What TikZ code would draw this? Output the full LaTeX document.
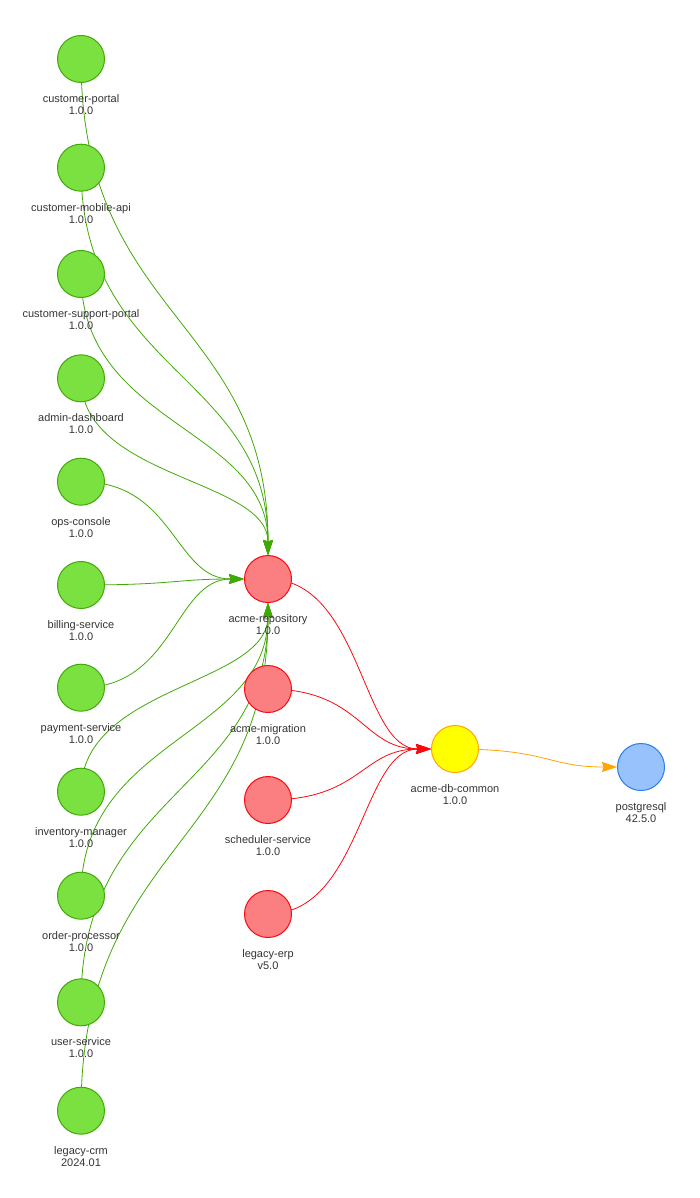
\documentclass[tikz,border=0pt]{standalone}
\usepackage{fontspec}
\setmainfont{Liberation Sans}
\usetikzlibrary{arrows.meta, positioning, calc, backgrounds}
\definecolor{appgreen}{HTML}{7BE141}
\definecolor{appgreenline}{HTML}{41A906}
\definecolor{libred}{HTML}{FB7E81}
\definecolor{libredline}{HTML}{FA0A10}
\definecolor{coreyellow}{HTML}{FFFF00}
\definecolor{coreorange}{HTML}{FFA500}
\definecolor{dbblue}{HTML}{97C2FC}
\definecolor{dbblueline}{HTML}{2B7CE9}
\definecolor{labelgray}{HTML}{343434}

\begin{document}
\begin{tikzpicture}[x=1pt, y=-1pt]
    % Define styles
    \tikzstyle{pkg} = [circle, draw, line width=1pt, minimum size=47pt, inner sep=0pt]
    \tikzstyle{lbl} = [align=center, inner sep=0pt, text=labelgray, yshift=-11.5pt,
                       font=\fontsize{11}{12}\selectfont]
    \tikzstyle{app} = [pkg, fill=appgreen, draw=appgreenline]
    \tikzstyle{lib} = [pkg, fill=libred, draw=libredline]
    \tikzstyle{core} = [pkg, fill=coreyellow, draw=coreorange]
    \tikzstyle{db} = [pkg, fill=dbblue, draw=dbblueline]
    \tikzstyle{dep} = [line width=0.8pt, -{Stealth[length=15pt, width=10pt, inset=1.5pt]}]
    \tikzstyle{hbez} = [to path={.. controls ($(\tikztostart)!0.5!(\tikztostart -| \tikztotarget)$)
                        and ($(\tikztotarget)!0.5!(\tikztotarget -| \tikztostart)$) .. (\tikztotarget)}]
    \tikzstyle{vbez} = [to path={.. controls ($(\tikztostart)!0.5!(\tikztostart |- \tikztotarget)$)
                        and ($(\tikztotarget)!0.5!(\tikztotarget |- \tikztostart)$) .. (\tikztotarget)}]

    \useasboundingbox (0,0) rectangle (700,1198);

    % Create nodes
    \node[app, label={[lbl]below:{customer-portal\\1.0.0}}] (portal) at (81,59) {};
    \node[app, below=60.7pt of portal, label={[lbl]below:{customer-mobile-api\\1.0.0}}] (mobileapi) {};
    \node[app, below=58.3pt of mobileapi, label={[lbl]below:{customer-support-portal\\1.0.0}}] (supportportal) {};
    \node[app, below=56.3pt of supportportal, label={[lbl]below:{admin-dashboard\\1.0.0}}] (admin) {};
    \node[app, below=55.4pt of admin, label={[lbl]below:{ops-console\\1.0.0}}] (ops) {};
    \node[app, below=55.3pt of ops, label={[lbl]below:{billing-service\\1.0.0}}] (billing) {};
    \node[app, below=54.7pt of billing, label={[lbl]below:{payment-service\\1.0.0}}] (payment) {};
    \node[app, below=56pt of payment, label={[lbl]below:{inventory-manager\\1.0.0}}] (inventory) {};
    \node[app, below=56pt of inventory, label={[lbl]below:{order-processor\\1.0.0}}] (orderproc) {};
    \node[app, below=58.6pt of orderproc, label={[lbl]below:{user-service\\1.0.0}}] (usersvc) {};
    \node[app, below=60.4pt of usersvc, label={[lbl]below:{legacy-crm\\2024.01}}] (legacycrm) {};

    \node[lib, label={[lbl]below:{acme-repository\\1.0.0}}] (repo) at (268,579) {};
    \node[lib, below=62pt of repo, label={[lbl]below:{acme-migration\\1.0.0}}] (migration) {};
    \node[lib, below=63pt of migration, label={[lbl]below:{scheduler-service\\1.0.0}}] (scheduler) {};
    \node[lib, below=66pt of scheduler, label={[lbl]below:{legacy-erp\\v5.0}}] (legacyerp) {};

    \node[core, label={[lbl]below:{acme-db-common\\1.0.0}}] (dbcommon) at (455,749) {};
    \node[db, label={[lbl]below:{postgresql\\42.5.0}}] (postgres) at (641,767) {};

    % Draw arrows
    \begin{scope}[on background layer]
    \draw[dep, appgreenline] (portal.center) to[vbez] (repo);
    \draw[dep, appgreenline] (mobileapi.center) to[vbez] (repo);
    \draw[dep, appgreenline] (supportportal.center) to[vbez] (repo);
    \draw[dep, appgreenline] (admin.center) to[vbez] (repo);
    \draw[dep, appgreenline] (ops.center) to[hbez] (repo);
    \draw[dep, appgreenline] (billing.center) to[hbez] (repo);
    \draw[dep, appgreenline] (payment.center) to[hbez] (repo);
    \draw[dep, appgreenline] (inventory.center) to[vbez] (repo);
    \draw[dep, appgreenline] (orderproc.center) to[vbez] (repo);
    \draw[dep, appgreenline] (usersvc.center) to[vbez] (repo);
    \draw[dep, appgreenline] (legacycrm.center) to[vbez] (repo);

    \draw[dep, libredline] (repo.center) to[hbez] (dbcommon);
    \draw[dep, libredline] (migration.center) to[hbez] (dbcommon);
    \draw[dep, libredline] (scheduler.center) to[hbez] (dbcommon);
    \draw[dep, libredline] (legacyerp.center) to[hbez] (dbcommon);

    \draw[dep, coreorange] (dbcommon.center) to[hbez] (postgres);
    \end{scope}
\end{tikzpicture}
\end{document}
